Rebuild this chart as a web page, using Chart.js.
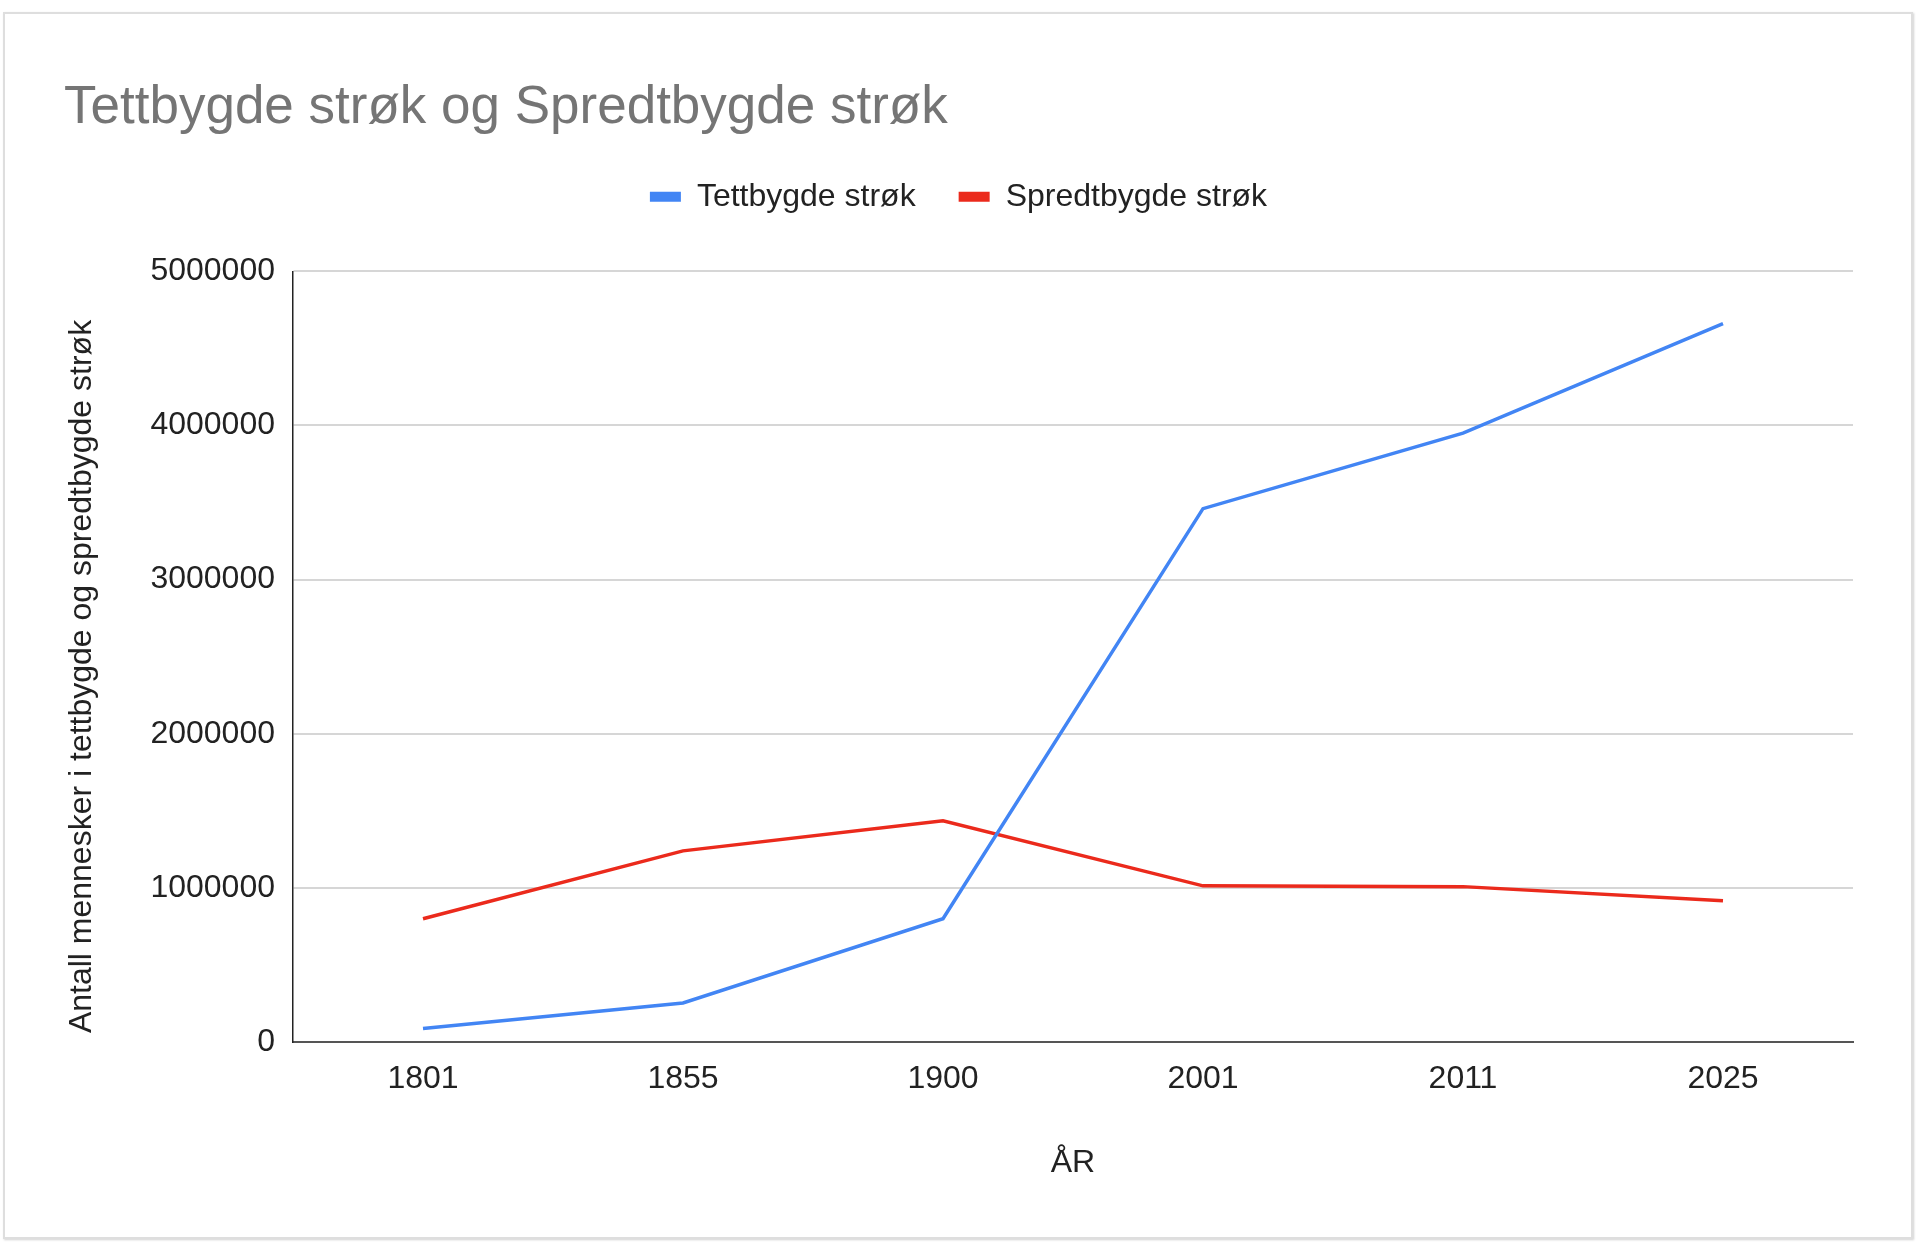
<!DOCTYPE html>
<html>
<head>
<meta charset="utf-8">
<script src="https://cdn.jsdelivr.net/npm/chart.js@4"></script>
<style>
  html, body { margin: 0; padding: 0; background: #fff; }
  #frame {
    position: absolute; left: 3px; top: 12px; width: 1906px; height: 1223px;
    border: 2px solid #dedede; box-shadow: 1px 1px 2px rgba(0,0,0,0.18);
  }
  #chart { position: absolute; left: 0; top: 0; }
</style>
</head>
<body>
<div id="frame"></div>
<canvas id="chart" width="1920" height="1245"></canvas>
<script>
const years = ["1801", "1855", "1900", "2001", "2011", "2025"];
const tettbygd = [88000, 253000, 800000, 3460000, 3950000, 4660000];
const spredtbygd = [800000, 1240000, 1435000, 1013000, 1008000, 916000];
const yTicks = [0, 1000000, 2000000, 3000000, 4000000, 5000000];

const FONT = "'Liberation Sans', Arial, sans-serif";
const TEXT = "#222222";

var ctx = document.getElementById("chart").getContext("2d");
var myChart = new Chart(ctx, {
  type: "line",
  data: {
    labels: years,
    datasets: [
      {
        label: "Tettbygde strøk",
        data: tettbygd,
        borderColor: "#4285f4",
        backgroundColor: "#4285f4",
        borderWidth: 3.5,
        pointRadius: 0,
        tension: 0,
      },
      {
        label: "Spredtbygde strøk",
        data: spredtbygd,
        borderColor: "#eb2a1c",
        backgroundColor: "#eb2a1c",
        borderWidth: 3.5,
        pointRadius: 0,
        tension: 0,
      },
    ],
  },
  options: {
    responsive: false,
    animation: false,
    layout: {
      padding: { left: 64, right: 67, top: 61, bottom: 66 },
    },
    plugins: {
      tooltip: { enabled: false },
      title: {
        display: true,
        text: "Tettbygde strøk og Spredtbygde strøk",
        align: "start",
        color: "#757575",
        font: { family: FONT, size: 53, weight: "normal", lineHeight: 1.1 },
        padding: { top: 18.5, bottom: 0 },
      },
      // empty spacer between the legend and the plot area
      subtitle: {
        display: true,
        text: "",
        weight: 500,
        font: { size: 10, lineHeight: 1 },
        padding: { top: 38.5, bottom: 0 },
      },
      legend: {
        position: "top",
        labels: {
          color: TEXT,
          font: { family: FONT, size: 32 },
          boxWidth: 31,
          boxHeight: 10,
          padding: 43,
          generateLabels: (chart) =>
            Chart.defaults.plugins.legend.labels
              .generateLabels(chart)
              .map((l) => ({ ...l, lineWidth: 0 })),
        },
      },
    },
    scales: {
      x: {
        offset: true,
        grid: { display: false, drawTicks: false },
        border: { display: true, color: "#555555", width: 2 },
        ticks: {
          color: TEXT,
          font: { family: FONT, size: 32 },
          padding: 18,
          maxRotation: 0,
        },
        title: {
          display: true,
          text: "ÅR",
          color: TEXT,
          font: { family: FONT, size: 32, lineHeight: 1 },
          padding: 0,
        },
        afterFit: (scale) => {
          scale.height = 137;
        },
      },
      y: {
        min: 0,
        max: 5000000,
        grid: { color: "#d6d6d6", lineWidth: 2, drawTicks: false },
        border: { display: true, color: "#222222", width: 1.5 },
        afterBuildTicks: (scale) => {
          scale.ticks = yTicks.map((v) => ({ value: v }));
        },
        ticks: {
          color: TEXT,
          font: { family: FONT, size: 32 },
          padding: 18,
          callback: (v) => String(v),
        },
        title: {
          display: true,
          text: " Antall mennesker i tettbygde og spredtbygde strøk",
          align: "start",
          color: TEXT,
          font: { family: FONT, size: 32, lineHeight: 1 },
          padding: { top: 2, bottom: 0 },
        },
        afterFit: (scale) => {
          scale.width = 229;
        },
      },
    },
  },
});
</script>
</body>
</html>
